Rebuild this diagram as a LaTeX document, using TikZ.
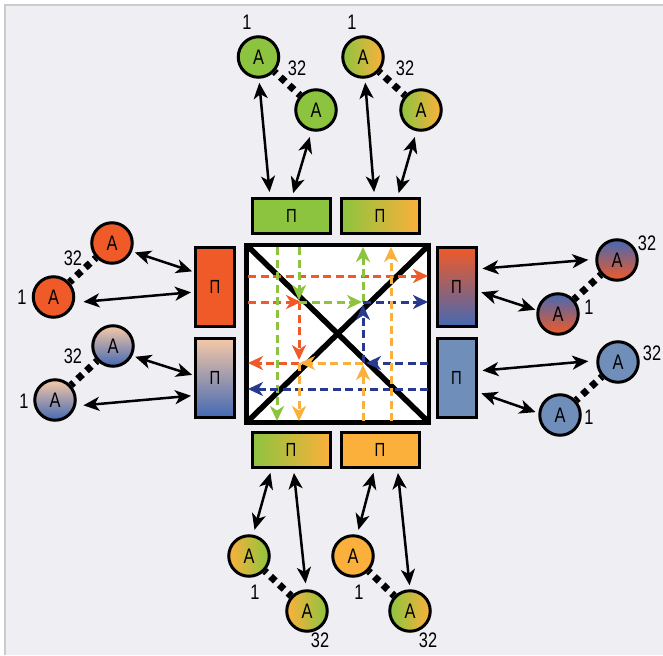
\documentclass[tikz,border=0pt]{standalone}
\usepackage{fontspec}
\newfontfamily\condfont{Liberation Sans}[FakeStretch=0.78]
\usetikzlibrary{arrows.meta}

\definecolor{grn}{HTML}{8CC43F}
\definecolor{org}{HTML}{FBB03B}
\definecolor{rd}{HTML}{F05A28}
\definecolor{pch}{HTML}{F7C9A7}
\definecolor{blu}{HTML}{4469B3}
\definecolor{stl}{HTML}{6F8FBA}
\definecolor{nvy}{HTML}{283A90}
\definecolor{bgc}{HTML}{EEEEF3}
\definecolor{framec}{HTML}{CACACF}

\begin{document}
\begin{tikzpicture}[x=1pt,y=-1pt,
  unit/.style={circle, draw=black, line width=3pt, minimum size=40.5pt, inner sep=0pt,
               font=\condfont\fontsize{21}{21}\selectfont},
  portbox/.style={rectangle, draw=black, line width=3pt, inner sep=0pt,
               font=\condfont\fontsize{19}{19}\selectfont},
  hbox/.style={portbox, minimum width=78pt, minimum height=35pt},
  vbox/.style={portbox, minimum width=39pt, minimum height=79pt},
  idx/.style={inner sep=0pt, font=\condfont\fontsize{21}{21}\selectfont},
  link/.style={line width=7pt, dash pattern=on 6.5pt off 5.5pt, dash phase=4pt},
  bidir/.style={line width=2.5pt,
     {Stealth[length=16pt,width=14pt,inset=4.5pt]}-{Stealth[length=16pt,width=14pt,inset=4.5pt]},
     shorten <=4pt, shorten >=4pt},
  route/.style={line width=3pt, dash pattern=on 8pt off 4.5pt,
     -{Stealth[length=15pt,width=14pt,inset=4.5pt]}}
]
% canvas and frame
\useasboundingbox (0,0) rectangle (663,655);
\fill[white] (0,0) rectangle (663,655);
\fill[bgc] (5,5) rectangle (663,655);
\draw[framec, line width=2pt] (5,655) -- (5,5) -- (663,5);

% switching fabric
\node[rectangle, draw=black, fill=white, line width=4.5pt, outer sep=0pt,
      minimum width=182.5pt, minimum height=177.5pt] (sw) at (337.75,333.75) {};
\draw[line width=5.5pt] (sw.north west) -- (sw.south east);
\draw[line width=5.5pt] (sw.south west) -- (sw.north east);

% crossing points and border points of the routes
\coordinate (q1) at (299,302);
\coordinate (q2) at (363,302);
\coordinate (q3) at (299,363);
\coordinate (q4) at (363,363);
\coordinate (eL1) at (248,276); \coordinate (eR1) at (428,276);
\coordinate (eL2) at (248,302); \coordinate (eR2) at (428,302);
\coordinate (eL3) at (248,363); \coordinate (eR3) at (428,363);
\coordinate (eL4) at (248,389); \coordinate (eR4) at (428,389);
\coordinate (eT1) at (277,247); \coordinate (eB1) at (277,421);
\coordinate (eT2) at (299,247); \coordinate (eB2) at (299,421);
\coordinate (eT3) at (363,247); \coordinate (eB3) at (363,421);
\coordinate (eT4) at (391,247); \coordinate (eB4) at (391,421);

% red routes
\draw[route, rd] (eL1) -- (eR1);
\draw[route, rd, shorten >=-2pt] (eL2) -- (q1);
\draw[route, rd, shorten >=3pt] (q1) -- (q3);
\draw[route, rd] (q3) -- (eL3);
% green routes
\draw[route, grn] (eT1) -- (eB1);
\draw[route, grn, shorten >=2pt] (eT2) -- (q1);
\draw[route, grn, shorten >=1pt] (q1) -- (q2);
\draw[route, grn] (q2) -- (eT3);
% blue routes
\draw[route, nvy] (eR4) -- (eL4);
\draw[route, nvy, shorten >=3pt] (eR3) -- (q4);
\draw[route, nvy, shorten >=3pt] (q4) -- (q2);
\draw[route, nvy] (q2) -- (eR2);
% orange routes
\draw[route, org] (eB4) -- (eT4);
\draw[route, org, shorten >=2pt] (eB3) -- (q4);
\draw[route, org, shorten >=1pt] (q4) -- (q3);
\draw[route, org] (q3) -- (eB2);

% ports
\node[hbox, fill=grn] (tb1) at (291.5,216) {П};
\node[hbox, left color=grn, right color=org] (tb2) at (380,216) {П};
\node[hbox, left color=grn, right color=org] (bb1) at (291,450) {П};
\node[hbox, fill=org] (bb2) at (380,450) {П};
\node[vbox, fill=rd] (lb1) at (215,287) {П};
\node[vbox, top color=pch, bottom color=blu] (lb2) at (215,377.5) {П};
\node[vbox, top color=rd, bottom color=blu] (rb1) at (456.5,287) {П};
\node[vbox, fill=stl] (rb2) at (456.5,378) {П};

% units
\node[unit, fill=grn] (t1a) at (258.5,57) {А};
\node[unit, fill=grn] (t1b) at (316,110) {А};
\node[unit, left color=grn, right color=org] (t2a) at (363,57) {А};
\node[unit, left color=grn, right color=org] (t2b) at (421,110) {А};
\node[unit, left color=org, right color=grn] (b1a) at (249,556) {А};
\node[unit, left color=org, right color=grn] (b1b) at (307,611) {А};
\node[unit, fill=org] (b2a) at (353,556) {А};
\node[unit, left color=grn, right color=org] (b2b) at (410,611) {А};
\node[unit, fill=rd] (l1a) at (112,243) {А};
\node[unit, fill=rd] (l1b) at (53.5,297) {А};
\node[unit, top color=pch, bottom color=blu] (l2a) at (113,346) {А};
\node[unit, top color=pch, bottom color=blu] (l2b) at (55,400) {А};
\node[unit, top color=blu, bottom color=rd] (r1a) at (617,260) {А};
\node[unit, top color=blu, bottom color=rd] (r1b) at (558,314) {А};
\node[unit, fill=stl] (r2a) at (618,362) {А};
\node[unit, fill=stl] (r2b) at (560,415) {А};

% chains between first and last unit
\foreach \a/\b in {t1a/t1b, t2a/t2b, b1a/b1b, b2a/b2b, l1a/l1b, l2a/l2b, r1a/r1b, r2a/r2b}
  \draw[link] (\a) -- (\b);

% unit indices
\node[idx] (i-t1a) at (247,22) {1};
\node[idx] (i-t1b) at (297,68) {32};
\node[idx] (i-t2a) at (352,22) {1};
\node[idx] (i-t2b) at (405,68) {32};
\node[idx] (i-b1a) at (255,592) {1};
\node[idx] (i-b1b) at (320,640) {32};
\node[idx] (i-b2a) at (359,592) {1};
\node[idx] (i-b2b) at (428,640) {32};
\node[idx] (i-l1a) at (73,258) {32};
\node[idx] (i-l1b) at (22,297) {1};
\node[idx] (i-l2a) at (73,356) {32};
\node[idx] (i-l2b) at (24,401) {1};
\node[idx] (i-r1a) at (647,243) {32};
\node[idx] (i-r1b) at (589,307) {1};
\node[idx] (i-r2a) at (652,353) {32};
\node[idx] (i-r2b) at (589,417) {1};

% unit <-> port links
\draw[bidir, shorten >=5pt] (t1a.-89) -- ([xshift=19pt]tb1.north west);
\draw[bidir, shorten <=6pt] (t1b.-102) -- ([xshift=41pt]tb1.north west);
\draw[bidir, shorten >=5pt] (t2a.-85) -- ([xshift=35pt]tb2.north west);
\draw[bidir, shorten <=6pt] (t2b.-102) -- ([xshift=58pt]tb2.north west);

\draw[bidir, shorten >=5pt] ([xshift=21pt]bb1.south west) -- (b1a.79);
\draw[bidir, shorten >=6pt] ([xshift=43pt]bb1.south west) -- (b1b.92);
\draw[bidir, shorten >=5pt] ([xshift=35pt]bb2.south west) -- (b2a.79);
\draw[bidir] ([xshift=58pt]bb2.south west) -- (b2b.90);

\draw[bidir, shorten <=3pt, shorten >=2pt] (l1a.-23) -- ([yshift=-26pt]lb1.north west);
\draw[bidir, shorten <=9pt, shorten >=3pt] (l1b.-15) -- ([yshift=-46pt]lb1.north west);
\draw[bidir, shorten <=3pt, shorten >=2pt] (l2a.-27) -- ([yshift=-39pt]lb2.north west);
\draw[bidir, shorten <=7.5pt, shorten >=3pt] (l2b.-16) -- ([yshift=-59pt]lb2.north west);

\draw[bidir, shorten <=5pt, shorten >=7pt] ([yshift=-23pt]rb1.north east) -- (r1a.178);
\draw[bidir, shorten <=4pt, shorten >=1.5pt] ([yshift=-45pt]rb1.north east) -- (r1b.170);
\draw[bidir, shorten <=5pt, shorten >=8pt] ([yshift=-34pt]rb2.north east) -- (r2a.176);
\draw[bidir, shorten <=4pt, shorten >=3pt] ([yshift=-55pt]rb2.north east) -- (r2b.175);
\end{tikzpicture}
\end{document}
